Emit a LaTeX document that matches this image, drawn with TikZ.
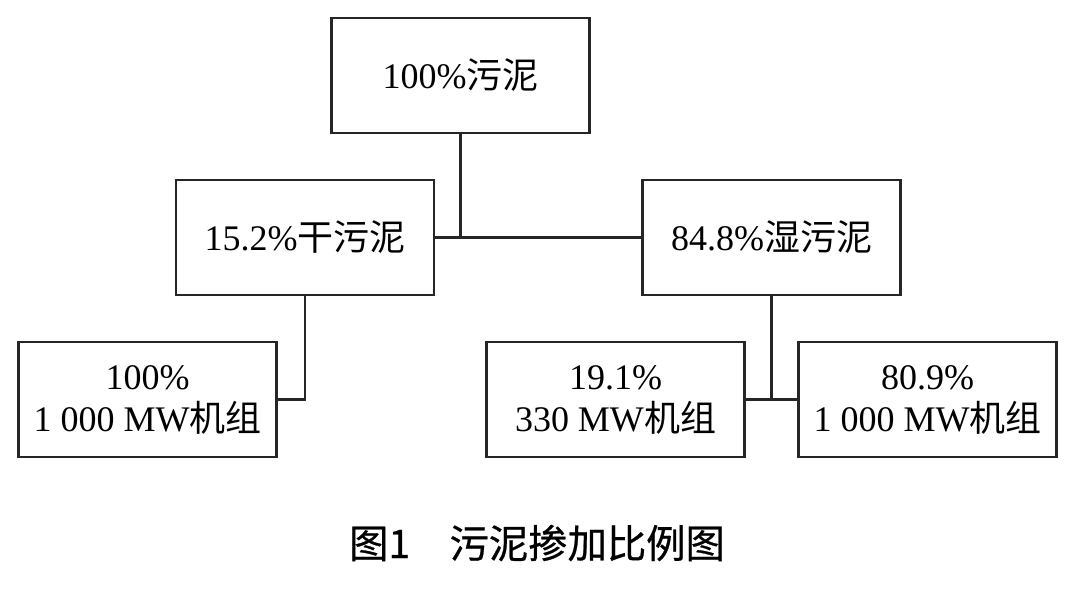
\documentclass[tikz,border=0pt]{standalone}
\usepackage{fontspec}
\setmainfont{Liberation Serif}
\newfontfamily\cjk{Noto Sans CJK SC}
\newfontfamily\cjkcap[FakeBold=0.6]{Noto Sans CJK SC}
\begin{document}
\begin{tikzpicture}[x=0.75pt,y=-0.75pt,
  box/.style={draw=black!85,line width=1.7pt,minimum width=193.5pt,minimum height=86.25pt,
    inner sep=0pt,align=center,font=\fontsize{27}{31.5}\selectfont},
  conn/.style={draw=black!85,line width=1.6pt}]
\useasboundingbox (0,0) rectangle (1067,589);
\node[box] (top) at (460.5,75.5) {100\%{\cjk 污泥}};
\node[box] (dry) at (305,237.5) {15.2\%{\cjk 干污泥}};
\node[box] (wet) at (771.5,237.5) {84.8\%{\cjk 湿污泥}};
\node[box] (b1) at (147.5,399.5) {100\%\\1~000 MW{\cjk 机组}};
\node[box] (b2) at (615.5,399.5) {19.1\%\\330 MW{\cjk 机组}};
\node[box] (b3) at (927.5,399.5) {80.9\%\\1~000 MW{\cjk 机组}};
\coordinate (j1) at (top.south |- dry.east);
\coordinate (j2) at (dry.south |- b1.east);
\coordinate (j3) at (wet.south |- b2.east);
\draw[conn] (top.south) -- (j1);
\draw[conn] (dry.east) -- (wet.west);
\draw[conn] (dry.south) -- (j2) -- (b1.east);
\draw[conn] (wet.south) -- (j3);
\draw[conn] (b2.east) -- (b3.west);
\node[font=\cjkcap\fontsize{29.5}{34}\selectfont,inner sep=0pt] (cap) at (537,543) {图1　污泥掺加比例图};
\end{tikzpicture}
\end{document}
